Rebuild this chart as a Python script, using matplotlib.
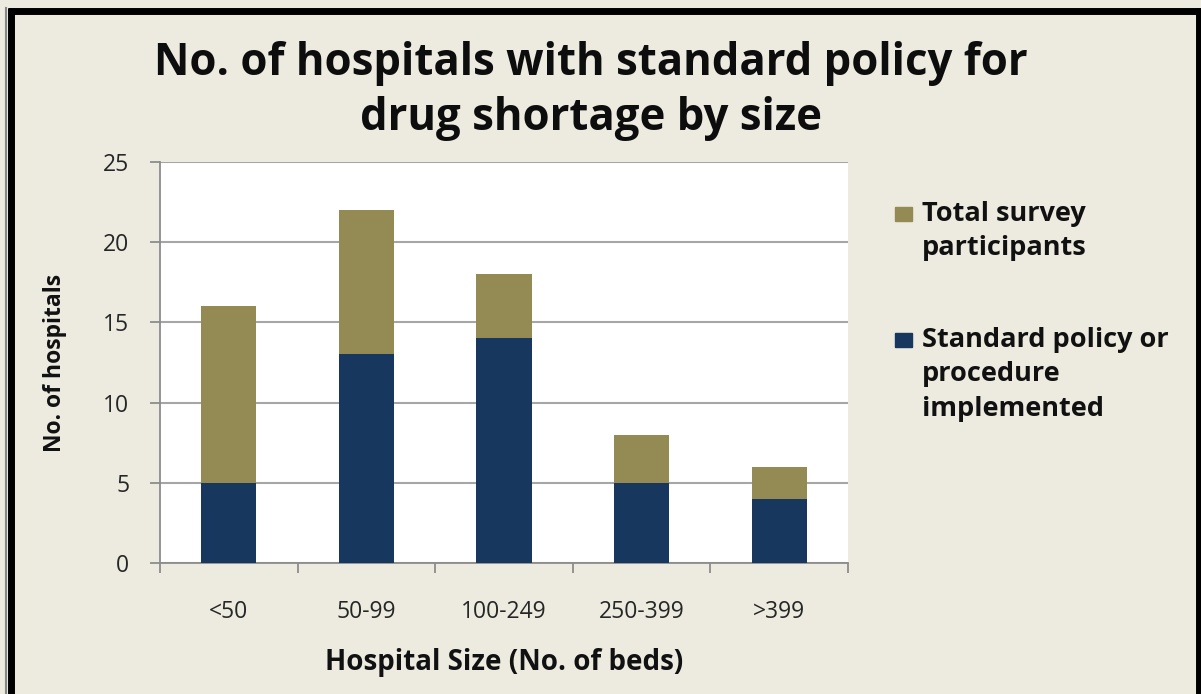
import matplotlib
matplotlib.use("Agg")
import matplotlib.pyplot as plt
from matplotlib.lines import Line2D
from matplotlib.patches import Rectangle
import numpy as np

categories = ["<50", "50-99", "100-249", "250-399", ">399"]
total_participants = [16, 22, 18, 8, 6]
standard_policy = [5, 13, 14, 5, 4]
yticks = [0, 5, 10, 15, 20, 25]

title = "No. of hospitals with standard policy for\ndrug shortage by size"
xlabel = "Hospital Size (No. of beds)"
ylabel = "No. of hospitals"
legend_labels = ["Total survey\nparticipants", "Standard policy or\nprocedure\nimplemented"]

bg = "#EDEBE0"
olive = "#948A54"
navy = "#17375E"
grid_c = "#A6A6A6"

plt.rcParams['font.family'] = ['Open Sans', 'DejaVu Sans']

W, H = 1201, 694
fig = plt.figure(figsize=(W / 100, H / 100), dpi=100, facecolor=bg)
ax = fig.add_axes([160 / W, 1 - 563 / H, 688 / W, 401 / H])
ax.set_facecolor("white")

x = np.arange(len(categories))
ax.bar(x, total_participants, width=0.4, color=olive, zorder=2)
ax.bar(x, standard_policy, width=0.4, color=navy, zorder=3)

ax.set_xlim(-0.5, len(categories) - 0.5)
ax.set_ylim(0, 25)
ax.set_yticks(yticks)
ax.set_yticklabels([str(v) for v in yticks])
ax.set_xticks(x)
ax.set_xticklabels(categories)
ax.set_xticks(np.arange(len(categories) + 1) - 0.5, minor=True)

ax.yaxis.grid(True, color=grid_c, linewidth=1.5, zorder=1)
ax.set_axisbelow(True)
for s in ["top", "right"]:
    ax.spines[s].set_visible(False)
for s in ["left", "bottom"]:
    ax.spines[s].set_color("#8C8C8C")
    ax.spines[s].set_linewidth(1.3)

ax.tick_params(axis="y", which="major", length=7, width=1.3, color="#8C8C8C",
               pad=15, labelsize=16.5, labelcolor="#262626")
ax.tick_params(axis="x", which="major", length=0, pad=27, labelsize=16.5, labelcolor="#262626")
ax.tick_params(axis="x", which="minor", length=7, width=1.3, color="#8C8C8C")

ax.set_xlabel(xlabel, fontsize=20, fontweight="bold", color="#111111")
ax.xaxis.set_label_coords(0.5, -0.212)
ax.set_ylabel(ylabel, fontsize=16.5, fontweight="bold", color="#111111")
ax.yaxis.set_label_coords(-0.135, 0.5)

fig.text(591 / W, 1 - 41 / H, title, ha="center", va="top", fontsize=31.5,
         fontweight="bold", color="#0D0D0D", linespacing=1.3)

# legend
colors = [olive, navy]
square_top = [207, 333]
text_top = [201, 327]
for lab, c, st, tt in zip(legend_labels, colors, square_top, text_top):
    fig.patches.append(Rectangle((895 / W, 1 - (st + 14) / H), 17 / W, 14 / H,
                                 transform=fig.transFigure, color=c, zorder=5))
    fig.text(922 / W, 1 - tt / H, lab, ha="left", va="top",
             fontsize=19.5, fontweight="bold", color="#111111", linespacing=1.42)

# frame
k = dict(transform=fig.transFigure, color="black", linewidth=5, solid_capstyle="butt")
fig.add_artist(Line2D([11 / W, 11 / W], [0, 1 - 8 / H], **k))
fig.add_artist(Line2D([8 / W, 1], [1 - 11 / H, 1 - 11 / H], **k))
fig.add_artist(Line2D([1 - 2.5 / W, 1 - 2.5 / W], [0, 1 - 8 / H], **k))
fig.add_artist(Line2D([6 / W, 6 / W], [0, 1 - 8 / H], transform=fig.transFigure,
                      color="#888888", linewidth=1.5))

fig.savefig("out.png", dpi=100, facecolor=bg)
